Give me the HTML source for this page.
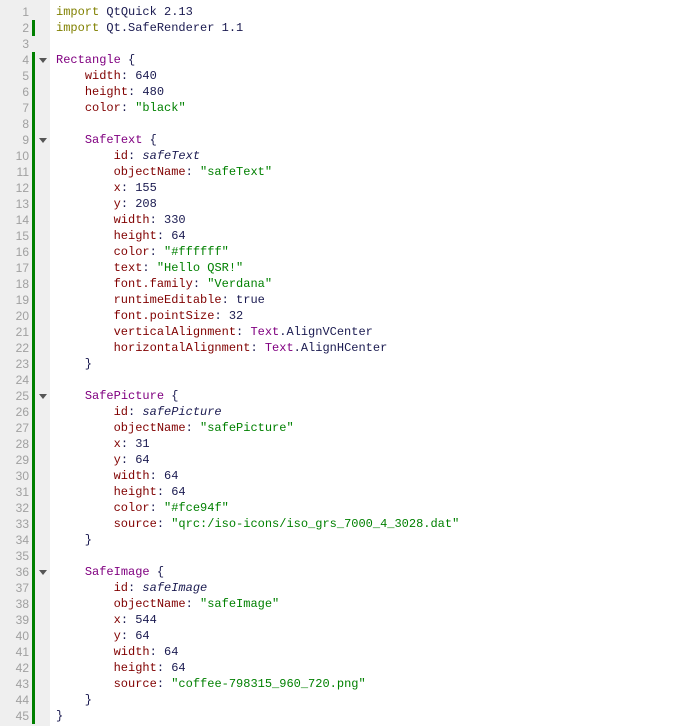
<!DOCTYPE html>
<html><head><meta charset="utf-8"><style>
html,body{margin:0;padding:0;background:#fff;width:676px;height:726px;overflow:hidden}
.g{position:absolute;left:0;top:0;width:50px;height:726px;background:#efefef}
.bar{position:absolute;left:32px;width:3px;background:#008000}
.ln{position:absolute;left:0;width:29px;text-align:right;color:#a0a0a0;font:12px "Liberation Sans",sans-serif;line-height:16px}
.fold{position:absolute;left:39px;width:0;height:0;border-left:4px solid transparent;border-right:4px solid transparent;border-top:5px solid #555}
pre{position:absolute;left:56px;top:4px;margin:0;font:12px "Liberation Mono",monospace;line-height:16px;color:#1a1a50}
.k{color:#808000}.t{color:#800080}.p{color:#800000}.s{color:#008000}.i{font-style:italic}
</style></head><body>
<div class="g"></div>
<div class="bar" style="top:20px;height:16px"></div>
<div class="bar" style="top:52px;height:672px"></div>
<div class="fold" style="top:58px"></div>
<div class="fold" style="top:138px"></div>
<div class="fold" style="top:394px"></div>
<div class="fold" style="top:570px"></div>
<div class="ln" style="top:4px">1<br>2<br>3<br>4<br>5<br>6<br>7<br>8<br>9<br>10<br>11<br>12<br>13<br>14<br>15<br>16<br>17<br>18<br>19<br>20<br>21<br>22<br>23<br>24<br>25<br>26<br>27<br>28<br>29<br>30<br>31<br>32<br>33<br>34<br>35<br>36<br>37<br>38<br>39<br>40<br>41<br>42<br>43<br>44<br>45</div>
<pre><span class="k">import</span> QtQuick 2.13
<span class="k">import</span> Qt.SafeRenderer 1.1

<span class="t">Rectangle</span> {
    <span class="p">width</span>: 640
    <span class="p">height</span>: 480
    <span class="p">color</span>: <span class="s">"black"</span>

    <span class="t">SafeText</span> {
        <span class="p">id</span>: <span class="i">safeText</span>
        <span class="p">objectName</span>: <span class="s">"safeText"</span>
        <span class="p">x</span>: 155
        <span class="p">y</span>: 208
        <span class="p">width</span>: 330
        <span class="p">height</span>: 64
        <span class="p">color</span>: <span class="s">"#ffffff"</span>
        <span class="p">text</span>: <span class="s">"Hello QSR!"</span>
        <span class="p">font.family</span>: <span class="s">"Verdana"</span>
        <span class="p">runtimeEditable</span>: true
        <span class="p">font.pointSize</span>: 32
        <span class="p">verticalAlignment</span>: <span class="t">Text</span>.AlignVCenter
        <span class="p">horizontalAlignment</span>: <span class="t">Text</span>.AlignHCenter
    }

    <span class="t">SafePicture</span> {
        <span class="p">id</span>: <span class="i">safePicture</span>
        <span class="p">objectName</span>: <span class="s">"safePicture"</span>
        <span class="p">x</span>: 31
        <span class="p">y</span>: 64
        <span class="p">width</span>: 64
        <span class="p">height</span>: 64
        <span class="p">color</span>: <span class="s">"#fce94f"</span>
        <span class="p">source</span>: <span class="s">"qrc:/iso-icons/iso_grs_7000_4_3028.dat"</span>
    }

    <span class="t">SafeImage</span> {
        <span class="p">id</span>: <span class="i">safeImage</span>
        <span class="p">objectName</span>: <span class="s">"safeImage"</span>
        <span class="p">x</span>: 544
        <span class="p">y</span>: 64
        <span class="p">width</span>: 64
        <span class="p">height</span>: 64
        <span class="p">source</span>: <span class="s">"coffee-798315_960_720.png"</span>
    }
}</pre>
</body></html>
